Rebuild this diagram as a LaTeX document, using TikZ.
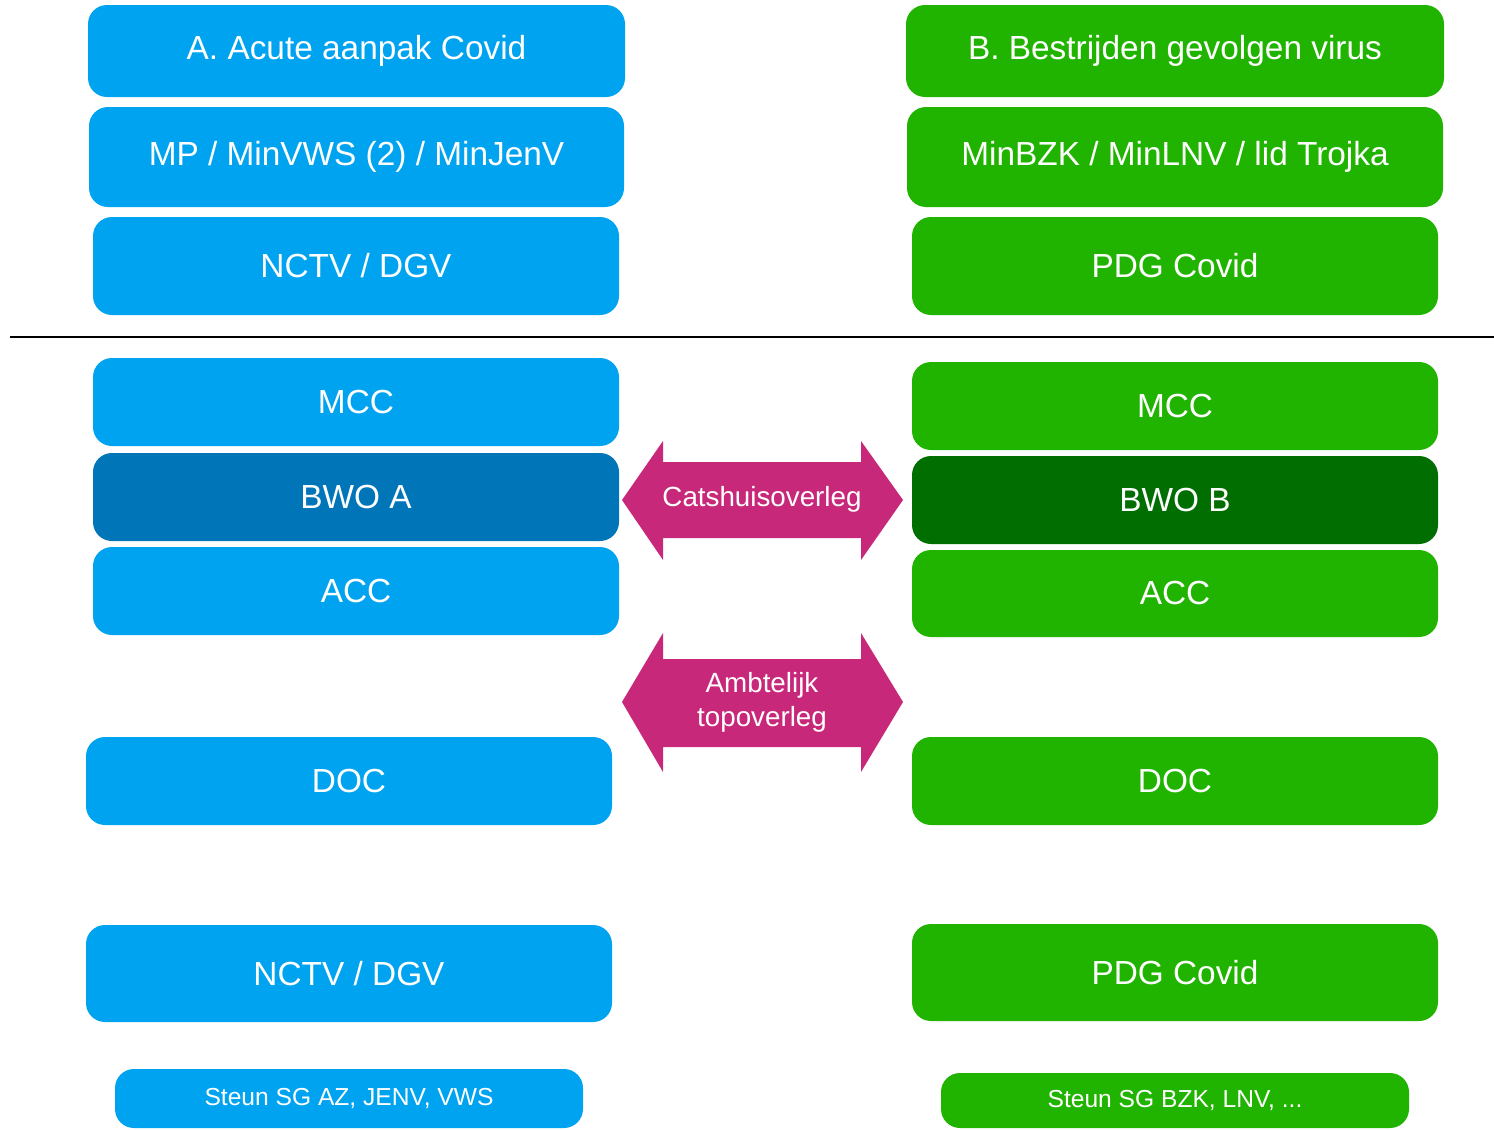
\documentclass[tikz,border=0pt]{standalone}
\usepackage{fontspec}
\setmainfont{Liberation Sans}
\definecolor{cblue}{RGB}{0,163,240}
\definecolor{cdblue}{RGB}{0,117,184}
\definecolor{cgreen}{RGB}{32,180,0}
\definecolor{cdgreen}{RGB}{0,110,0}
\definecolor{cmag}{RGB}{200,40,122}
\newcommand\mybox[7]{%
  \node[#6, minimum width={(#4-#2)*0.02cm}, minimum height={(#5-#3)*0.02cm}] (#1) at ({(#2+#4)/2},{(#3+#5)/2}) {#7};}
\tikzset{
  box/.style={rectangle, rounded corners=0.38cm, inner sep=0pt, text=white, font=\fontsize{19}{22}\selectfont},
  bbox/.style={box, fill=cblue},
  dbbox/.style={box, fill=cdblue},
  gbox/.style={box, fill=cgreen},
  dgbox/.style={box, fill=cdgreen},
  sbbox/.style={box, fill=cblue, font=\fontsize{14}{17}\selectfont},
  sgbox/.style={box, fill=cgreen, font=\fontsize{14}{17}\selectfont},
  dblarrow/.style={fill=cmag},
  arrlabel/.style={text=white, align=center, font=\fontsize{15.8}{19.3}\selectfont, inner sep=0pt},
  sepline/.style={line width=1.2pt, black}
}
\begin{document}
\begin{tikzpicture}[x=0.02cm, y=-0.02cm]
\useasboundingbox (0,0) rectangle (1494,1129);
% left column
\mybox{a1}{88}{5}{625}{97}{bbox}{A. Acute aanpak Covid}
\mybox{a2}{89}{107}{624}{207}{bbox}{MP / MinVWS (2) / MinJenV}
\mybox{a3}{93}{217}{619}{315}{bbox}{NCTV / DGV}
\mybox{a4}{93}{358}{619}{446}{bbox}{MCC}
\mybox{a5}{93}{453}{619}{541}{dbbox}{BWO A}
\mybox{a6}{93}{547}{619}{635}{bbox}{ACC}
\mybox{a7}{86}{737}{612}{825}{bbox}{DOC}
\mybox{a8}{86}{925}{612}{1022}{bbox}{NCTV / DGV}
\mybox{a9}{115}{1069}{583}{1128}{sbbox}{Steun SG AZ, JENV, VWS}
% right column
\mybox{b1}{906}{5}{1444}{97}{gbox}{B. Bestrijden gevolgen virus}
\mybox{b2}{907}{107}{1443}{207}{gbox}{MinBZK / MinLNV / lid Trojka}
\mybox{b3}{912}{217}{1438}{315}{gbox}{PDG Covid}
\mybox{b4}{912}{362}{1438}{450}{gbox}{MCC}
\mybox{b5}{912}{456}{1438}{544}{dgbox}{BWO B}
\mybox{b6}{912}{550}{1438}{637}{gbox}{ACC}
\mybox{b7}{912}{737}{1438}{825}{gbox}{DOC}
\mybox{b8}{912}{924}{1438}{1021}{gbox}{PDG Covid}
\mybox{b9}{941}{1073}{1409}{1128}{sgbox}{Steun SG BZK, LNV, ...}
% separator
\coordinate (l1) at (10,337);
\coordinate (l2) at (1494,337);
\draw[sepline] (l1) -- (l2);
% double arrows
\fill[dblarrow] (622,500) -- (663,441) -- (663,462) -- (861,462) -- (861,441) -- (903,500) -- (861,560) -- (861,538) -- (663,538) -- (663,560) -- cycle;
\node[arrlabel] (c1) at (762,499) {Catshuisoverleg};
\fill[dblarrow] (622,702) -- (663,633) -- (663,659) -- (861,659) -- (861,633) -- (903,702) -- (861,772) -- (861,747) -- (663,747) -- (663,772) -- cycle;
\node[arrlabel] (c2) at (762,702) {Ambtelijk\\topoverleg};
\end{tikzpicture}
\end{document}
